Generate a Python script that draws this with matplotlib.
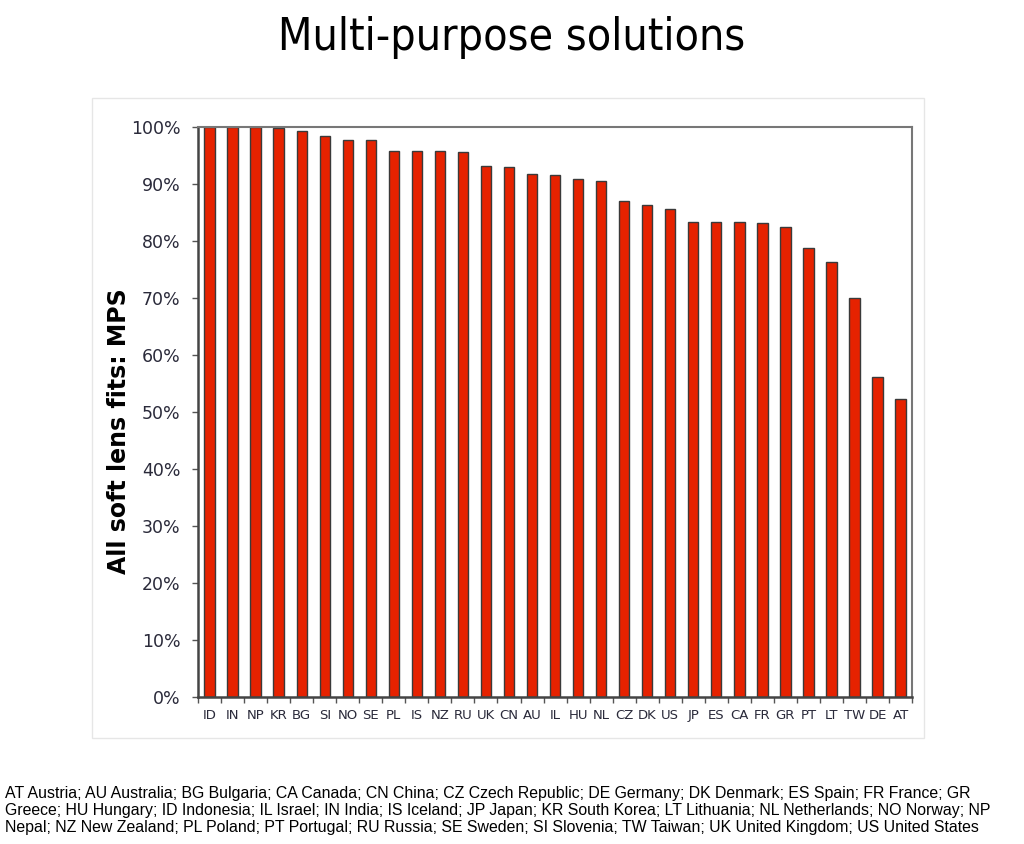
import matplotlib
matplotlib.use("Agg")
import matplotlib.pyplot as plt
import numpy as np
from matplotlib.patches import Rectangle
from matplotlib.ticker import PercentFormatter

countries = ["ID", "IN", "NP", "KR", "BG", "SI", "NO", "SE", "PL", "IS", "NZ", "RU",
             "UK", "CN", "AU", "IL", "HU", "NL", "CZ", "DK", "US", "JP", "ES", "CA",
             "FR", "GR", "PT", "LT", "TW", "DE", "AT"]
mps_share = [100, 100, 100, 99.8, 99.3, 98.5, 97.8, 97.8, 95.8, 95.8, 95.8, 95.6,
             93.2, 92.9, 91.8, 91.5, 90.8, 90.5, 87.1, 86.4, 85.6, 83.4, 83.4, 83.4,
             83.2, 82.4, 78.7, 76.4, 70.0, 56.2, 52.3]

footnote = ("AT Austria; AU Australia; BG Bulgaria; CA Canada; CN China; CZ Czech Republic; DE Germany; DK Denmark; ES Spain; FR France; GR\n"
            "Greece; HU Hungary; ID Indonesia; IL Israel; IN India; IS Iceland; JP Japan; KR South Korea; LT Lithuania; NL Netherlands; NO Norway; NP\n"
            "Nepal; NZ New Zealand; PL Poland; PT Portugal; RU Russia; SE Sweden; SI Slovenia; TW Taiwan; UK United Kingdom; US United States")

fig = plt.figure(figsize=(10.24, 8.44), dpi=100)

# light frame around the chart area
fig.patches.append(Rectangle((0.0898, 0.1256), 0.8125, 0.7583, transform=fig.transFigure,
                             fill=False, edgecolor="#e6e6e6", lw=1))

ax = fig.add_axes([0.1934, 0.1742, 0.6973, 0.6753])
x = np.arange(len(countries))
ax.bar(x, mps_share, width=0.45, color="#e62200", edgecolor="#3a3a3a", linewidth=1.0)

ax.set_xlim(-0.5, len(countries) - 0.5)
ax.set_ylim(0, 100)
ax.set_yticks(np.arange(0, 101, 10))
ax.yaxis.set_major_formatter(PercentFormatter(decimals=0))
ax.set_xticks(x)
ax.set_xticklabels(countries, fontsize=9.5, color="#2a2a3a")
ax.set_xticks(np.arange(-0.5, len(countries)), minor=True)
ax.tick_params(axis="x", which="major", length=0, pad=9)
ax.tick_params(axis="x", which="minor", length=4, color="#555555", width=1)
ax.tick_params(axis="y", length=4.5, color="#555555", width=1, labelsize=12.5,
               labelcolor="#2a2a3a", pad=8)

for side in ["left", "bottom"]:
    ax.spines[side].set_color("#444444")
    ax.spines[side].set_linewidth(1.8)
for side in ["top", "right"]:
    ax.spines[side].set_color("#777777")
    ax.spines[side].set_linewidth(1.5)

ax.text(-0.111, 0.467, "All soft lens fits: MPS", transform=ax.transAxes, rotation=90,
        ha="center", va="center", fontsize=17, fontweight="bold")

fig.text(0.5, 0.955, "Multi-purpose solutions", ha="center", va="center", fontsize=32,
         family="DejaVu Sans", fontstretch="condensed")
fig.text(0.005, 0.040, footnote, ha="left", va="center", fontsize=11.4,
         family="Liberation Sans", linespacing=1.17)

fig.savefig("out.png", dpi=100)
